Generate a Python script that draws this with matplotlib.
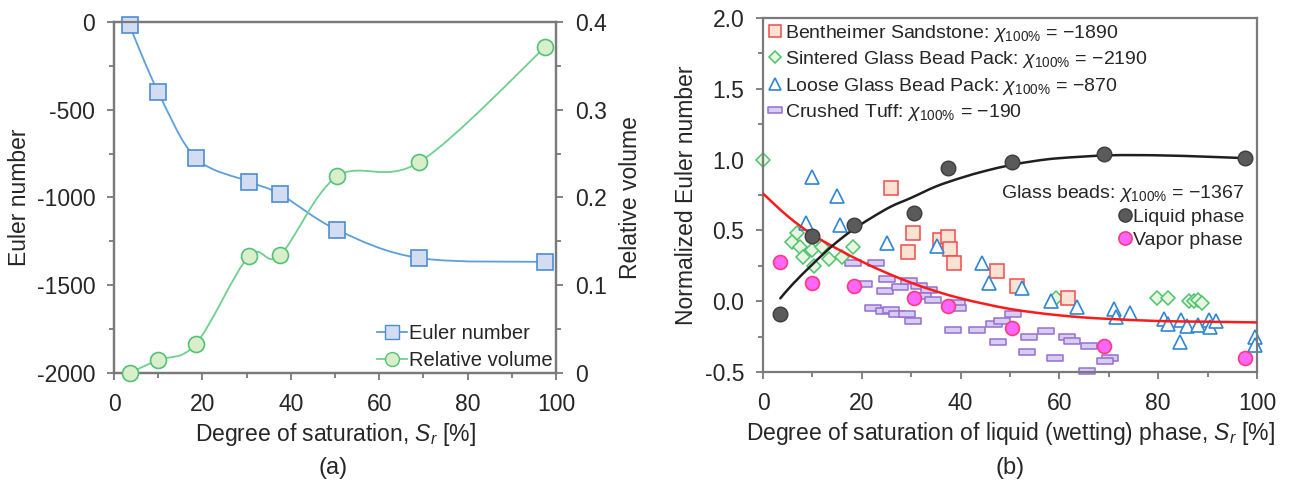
import numpy as np
import matplotlib
matplotlib.use("Agg")
import matplotlib.pyplot as plt
from matplotlib.path import Path
from matplotlib.patches import PathPatch
from matplotlib.lines import Line2D
from matplotlib.ticker import MultipleLocator, FixedLocator, FixedFormatter, FormatStrFormatter

plt.rcParams['font.family'] = ['Liberation Sans', 'DejaVu Sans']
plt.rcParams['mathtext.fontset'] = 'custom'
plt.rcParams['mathtext.rm'] = 'Liberation Sans'
plt.rcParams['mathtext.it'] = 'Liberation Sans:italic'
plt.rcParams['axes.unicode_minus'] = False

# ---------------- data: panel (a) ----------------
sat_a = [3.5, 10, 18.5, 30.5, 37.5, 50.5, 69, 97.5]
euler_a = [-20, -400, -775, -910, -980, -1185, -1345, -1367]
relvol_a = [0.0, 0.015, 0.033, 0.133, 0.134, 0.224, 0.240, 0.371]
relvol_ticks = [0, 0.1, 0.2, 0.3, 0.4]
relvol_ticklabels = ['0', '0.1', '0.2', '0.3', '0.4']

# ---------------- data: panel (b) ----------------
bent_x = [25.9, 29.4, 30.4, 35.8, 37.5, 37.8, 38.7, 47.3, 51.4, 61.8]
bent_y = [0.80, 0.35, 0.48, 0.43, 0.45, 0.37, 0.27, 0.21, 0.11, 0.02]

sint_x = [0.0, 6.8, 5.9, 7.4, 9.9, 8.0, 10.3, 11.9, 13.4, 15.9, 18.3,
          59.3, 79.8, 82.0, 86.3, 87.2, 88.1, 88.8]
sint_y = [1.00, 0.48, 0.42, 0.38, 0.36, 0.31, 0.25, 0.38, 0.30, 0.31, 0.38,
          0.02, 0.02, 0.02, 0.00, 0.00, 0.01, -0.01]

loose_x = [10.0, 14.9, 8.6, 15.5, 25.1, 35.2, 44.3, 45.8, 52.4, 58.3, 63.6,
           71.0, 71.5, 74.3, 81.2, 82.0, 84.4, 84.7, 85.8, 88.1, 90.3, 90.4,
           91.8, 99.6, 99.6]
loose_y = [0.875, 0.74, 0.55, 0.54, 0.41, 0.39, 0.27, 0.13, 0.09, 0.0, -0.04,
           -0.055, -0.11, -0.08, -0.125, -0.16, -0.29, -0.13, -0.175, -0.17,
           -0.13, -0.185, -0.14, -0.25, -0.31]

tuff_x = [18.2, 22.8, 20.4, 25.0, 24.7, 27.7, 29.6, 31.6, 33.6, 32.3, 34.5,
          22.2, 24.4, 26.0, 27.1, 29.1, 30.4, 39.2, 39.5, 38.5, 43.3, 46.7,
          48.3, 50.7, 47.6, 53.8, 53.5, 57.2, 59.1, 61.5, 62.5, 65.9, 70.2,
          69.2, 65.5]
tuff_y = [0.27, 0.27, 0.12, 0.16, 0.07, 0.10, 0.14, 0.11, 0.08, 0.04, 0.01,
          -0.05, -0.07, -0.06, -0.09, -0.09, -0.14, -0.01, -0.05, -0.20, -0.20,
          -0.16, -0.14, -0.09, -0.29, -0.25, -0.36, -0.21, -0.40, -0.25, -0.28,
          -0.32, -0.40, -0.42, -0.49]

liq_x = [3.5, 10, 18.5, 30.5, 37.5, 50.5, 69, 97.5]
liq_y = [-0.09, 0.46, 0.54, 0.62, 0.94, 0.98, 1.04, 1.01]
vap_x = [3.5, 10, 18.5, 30.5, 37.5, 50.5, 69, 97.5]
vap_y = [0.28, 0.13, 0.11, 0.02, -0.035, -0.19, -0.32, -0.40]

# trend lines
liqfit_x = [3.5, 6, 10, 14, 18, 22, 26, 30, 35, 40, 45, 50, 55, 60, 70, 80, 90, 97.5]
liqfit_y = [0.02, 0.12, 0.26, 0.39, 0.50, 0.59, 0.67, 0.73, 0.81, 0.87, 0.92,
            0.96, 0.99, 1.01, 1.03, 1.03, 1.02, 1.01]
vapfit_x = [0, 5, 10, 15, 20, 25, 30, 35, 40, 45, 50, 55, 60, 65, 70, 80, 90, 100]
vapfit_y = [0.76, 0.60, 0.47, 0.37, 0.28, 0.20, 0.13, 0.07, 0.02, -0.02, -0.055,
            -0.08, -0.10, -0.115, -0.125, -0.14, -0.145, -0.15]

leg_b_labels = [
    "Bentheimer Sandstone: $\\chi_{100\\%}$ = \u22121890",
    "Sintered Glass Bead Pack: $\\chi_{100\\%}$ = \u22122190",
    "Loose Glass Bead Pack: $\\chi_{100\\%}$ = \u2212870",
    "Crushed Tuff: $\\chi_{100\\%}$ = \u2212190",
]
glass_title = "Glass beads: $\\chi_{100\\%}$ = \u22121367"

# ---------------- helpers ----------------
def smooth_path(xs, ys, k=1/6):
    xs = np.asarray(xs, float); ys = np.asarray(ys, float)
    n = len(xs)
    pts = np.column_stack([xs, ys])
    tang = np.zeros_like(pts)
    for i in range(n):
        a = pts[max(i - 1, 0)]; b = pts[min(i + 1, n - 1)]
        tang[i] = (b - a) * k
    verts = [pts[0]]; codes = [Path.MOVETO]
    for i in range(n - 1):
        verts += [pts[i] + tang[i], pts[i + 1] - tang[i + 1], pts[i + 1]]
        codes += [Path.CURVE4] * 3
    return Path(verts, codes)

def add_curve(ax, xs, ys, color, lw, z=2):
    p = PathPatch(smooth_path(xs, ys), facecolor='none', edgecolor=color,
                  lw=lw, zorder=z, capstyle='round')
    ax.add_patch(p)

spine_col = '#7a7a7a'
text_col = '#262626'
FS = 16.5
LFS = 14

def style_axis(ax):
    for s in ax.spines.values():
        s.set_color(spine_col); s.set_linewidth(1.6)
    ax.tick_params(which='both', colors=spine_col, labelcolor=text_col,
                   labelsize=FS, direction='out', length=5, width=1.3, pad=8.5)
    ax.tick_params(which='minor', length=3.5)

fig = plt.figure(figsize=(12.9, 4.86), dpi=100)

# ---------------- panel (a) ----------------
ax1 = fig.add_axes([0.0884, 0.2325, 0.3426, 0.7225])
ax2 = ax1.twinx()

c_eu_line, c_eu_edge, c_eu_face = '#5b9fdc', '#4a8fd4', '#d3dcf0'
c_rv_line, c_rv_edge, c_rv_face = '#6fd08f', '#52c276', '#d9efcc'

add_curve(ax1, sat_a, euler_a, c_eu_line, 1.3)
add_curve(ax2, sat_a, relvol_a, c_rv_line, 1.3)
ax1.plot(sat_a, euler_a, ls='none', marker='s', ms=11.5, mfc=c_eu_face,
         mec=c_eu_edge, mew=1.2, zorder=3, clip_on=False)
ax2.plot(sat_a, relvol_a, ls='none', marker='o', ms=11.5, mfc=c_rv_face,
         mec=c_rv_edge, mew=1.2, zorder=3, clip_on=False)

ax1.set_xlim(0, 100)
ax1.set_ylim(-2000, 0)
ax2.set_ylim(0, 0.4)
ax1.xaxis.set_major_locator(MultipleLocator(20))
ax1.xaxis.set_minor_locator(MultipleLocator(10))
ax1.yaxis.set_major_locator(MultipleLocator(500))
ax1.yaxis.set_minor_locator(MultipleLocator(250))
ax2.yaxis.set_major_locator(FixedLocator(relvol_ticks))
ax2.yaxis.set_major_formatter(FixedFormatter(relvol_ticklabels))
ax2.yaxis.set_minor_locator(MultipleLocator(0.05))

style_axis(ax1)
style_axis(ax2)
ax1.tick_params(axis='x', pad=9.5)

ax1.set_ylabel('Euler number', fontsize=FS, color=text_col, labelpad=4)
ax2.set_ylabel('Relative volume', fontsize=FS, color=text_col, labelpad=9)
ax1.set_xlabel('Degree of saturation, $S_r$ [%]', fontsize=FS, color=text_col, labelpad=3.5)

h1 = Line2D([], [], color=c_eu_line, lw=1.3, marker='s', ms=9.5, mfc=c_eu_face, mec=c_eu_edge)
h2 = Line2D([], [], color=c_rv_line, lw=1.3, marker='o', ms=10, mfc=c_rv_face, mec=c_rv_edge)
leg_a = ax2.legend([h1, h2], ['Euler number', 'Relative volume'], loc='lower right',
                   frameon=False, fontsize=LFS + 0.5, handlelength=1.5, handletextpad=0.1,
                   labelspacing=0.38, borderaxespad=0.0, borderpad=0.15)
for t in leg_a.get_texts():
    t.set_color(text_col)

fig.text(0.258, 0.025, '(a)', fontsize=17, color=text_col, ha='center')

# ---------------- panel (b) ----------------
ax3 = fig.add_axes([0.5915, 0.2346, 0.3829, 0.7284])

c_bent_e, c_bent_f = '#f24b4b', '#fbe3d4'
c_sint_e, c_sint_f = '#4cc469', '#e8f5e2'
c_loose_e, c_loose_f = '#2f86d3', 'white'
c_tuff_e, c_tuff_f = '#946fd2', '#d8ccf0'
rect_marker = Path([(-1, -0.4), (1, -0.4), (1, 0.4), (-1, 0.4), (-1, -0.4)],
                   [Path.MOVETO, Path.LINETO, Path.LINETO, Path.LINETO, Path.CLOSEPOLY])

ax3.plot(tuff_x, tuff_y, ls='none', marker=rect_marker, ms=11, mfc=c_tuff_f,
         mec=c_tuff_e, mew=1.1, zorder=2, clip_on=False)
ax3.plot(sint_x, sint_y, ls='none', marker='D', ms=7.2, mfc=c_sint_f,
         mec=c_sint_e, mew=1.1, zorder=2.1, clip_on=False)
ax3.plot(bent_x, bent_y, ls='none', marker='s', ms=9.5, mfc=c_bent_f,
         mec=c_bent_e, mew=1.1, zorder=2.2, clip_on=False)
ax3.plot(loose_x, loose_y, ls='none', marker='^', ms=10, mfc=c_loose_f,
         mec=c_loose_e, mew=1.2, zorder=2.3, clip_on=False)

add_curve(ax3, vapfit_x, vapfit_y, '#ff1a1a', 1.8, z=3)
add_curve(ax3, liqfit_x, liqfit_y, '#1f1f1f', 1.8, z=3)

ax3.plot(liq_x, liq_y, ls='none', marker='o', ms=10.5, mfc='#5a5a5a',
         mec='#3c3c3c', mew=1.0, zorder=4, clip_on=False)
ax3.plot(vap_x, vap_y, ls='none', marker='o', ms=10, mfc='#ff66ff',
         mec='#ff3c78', mew=1.2, zorder=4, clip_on=False)

ax3.set_xlim(0, 100)
ax3.set_ylim(-0.5, 2.0)
ax3.xaxis.set_major_locator(MultipleLocator(20))
ax3.xaxis.set_minor_locator(MultipleLocator(10))
ax3.yaxis.set_major_locator(MultipleLocator(0.5))
ax3.yaxis.set_minor_locator(MultipleLocator(0.25))
ax3.yaxis.set_major_formatter(FormatStrFormatter('%.1f'))
style_axis(ax3)
ax3.tick_params(axis='x', pad=9.5)
ax3.set_ylabel('Normalized Euler number', fontsize=FS, color=text_col, labelpad=5)
ax3.set_xlabel('Degree of saturation of liquid (wetting) phase, $S_r$ [%]',
               fontsize=FS, color=text_col, labelpad=3.5)

hb = [Line2D([], [], ls='none', marker='s', ms=8, mfc=c_bent_f, mec=c_bent_e, mew=1.1),
      Line2D([], [], ls='none', marker='D', ms=6, mfc=c_sint_f, mec=c_sint_e, mew=1.1),
      Line2D([], [], ls='none', marker='^', ms=8.5, mfc=c_loose_f, mec=c_loose_e, mew=1.2),
      Line2D([], [], ls='none', marker=rect_marker, ms=10, mfc=c_tuff_f, mec=c_tuff_e, mew=1.1)]
leg1 = ax3.legend(hb, leg_b_labels, loc='upper left', bbox_to_anchor=(0.0, 1.0),
                  frameon=False, fontsize=LFS, handlelength=0.7, handletextpad=0.2,
                  labelspacing=0.28, borderaxespad=0.05, borderpad=0.2)
for t in leg1.get_texts():
    t.set_color(text_col)
ax3.add_artist(leg1)

hg = [Line2D([], [], ls='none', marker='o', ms=9.5, mfc='#5a5a5a', mec='#3c3c3c'),
      Line2D([], [], ls='none', marker='o', ms=9.5, mfc='#ff66ff', mec='#ff3c78', mew=1.2)]
leg2 = ax3.legend(hg, ['Liquid phase', 'Vapor phase'], loc='upper right',
                  bbox_to_anchor=(0.975, 0.535), frameon=False, fontsize=LFS,
                  title=glass_title, title_fontsize=LFS, alignment='right',
                  handlelength=0.6, handletextpad=0.15, labelspacing=0.25,
                  borderaxespad=0.0, borderpad=0.0)
leg2.get_title().set_color(text_col)
for t in leg2.get_texts():
    t.set_color(text_col)

fig.text(0.783, 0.025, '(b)', fontsize=17, color=text_col, ha='center')

fig.savefig('out.png', dpi=100)
